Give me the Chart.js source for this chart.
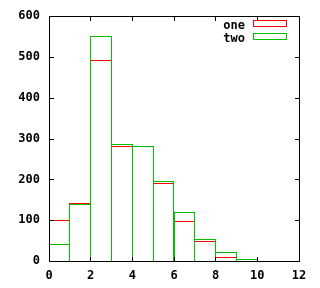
<!DOCTYPE html>
<html>
<head>
<meta charset="utf-8">
<script src="https://cdn.jsdelivr.net/npm/chart.js@4.4.1/dist/chart.umd.min.js"></script>
<style>
  html, body { margin: 0; padding: 0; background: #fff; }
</style>
</head>
<body>
<canvas id="chartHisto" width="320" height="288"></canvas>
<script>
// Données
const binCenters = [0.5, 1.5, 2.5, 3.5, 4.5, 5.5, 6.5, 7.5, 8.5, 9.5];
const oneValues = [100, 143, 492, 283, 281, 191, 99, 48, 11, 0];
const twoValues = [41, 140, 551, 286, 283, 196, 121, 55, 21, 4];
const seriesLabels = ["one", "two"];
const seriesColors = ["#ff0000", "#00c000"];
const xTicks = [0, 2, 4, 6, 8, 10, 12];
const yTicks = [0, 100, 200, 300, 400, 500, 600];

const font = { family: "'DejaVu Sans Mono', monospace", size: 12, weight: "bold" };

function toPoints(values) {
  return binCenters.map((x, i) => ({ x: x, y: values[i] }));
}

// Contour d'une boîte sur pixels entiers (traits nets comme gnuplot)
function boxOutline(ctx, l, t, r, b, color) {
  ctx.fillStyle = color;
  ctx.fillRect(l, t, r - l + 1, 1);
  ctx.fillRect(l, b, r - l + 1, 1);
  ctx.fillRect(l, t, 1, b - t + 1);
  ctx.fillRect(r, t, 1, b - t + 1);
}

// Les barres : contours tracés à partir des éléments calculés par Chart.js
const crispBars = {
  id: "crispBars",
  afterDatasetsDraw(chart) {
    const ctx = chart.ctx;
    ctx.save();
    [0, 1].forEach(di => {
      const meta = chart.getDatasetMeta(di);
      meta.data.forEach((el, i) => {
        if (!chart.data.datasets[di].data[i].y) return;
        const p = el.getProps(["x", "y", "base", "width"], true);
        const l = Math.floor(p.x - p.width / 2);
        const r = Math.floor(p.x + p.width / 2);
        const t = Math.round(p.y);
        const b = Math.round(p.base);
        boxOutline(ctx, l, t, r, b, seriesColors[di]);
      });
    });
    ctx.restore();
  }
};

// Cadre, graduations vers l'intérieur et légende façon gnuplot
const gnuplotFrame = {
  id: "gnuplotFrame",
  afterDraw(chart) {
    const ctx = chart.ctx;
    const xs = chart.scales.x;
    const ys = chart.scales.y;
    const a = chart.chartArea;
    const L = Math.round(a.left), R = Math.round(a.right);
    const T = Math.round(a.top), B = Math.round(a.bottom);
    ctx.save();
    boxOutline(ctx, L, T, R, B, "#000");
    xTicks.forEach(v => {
      const px = Math.floor(xs.getPixelForValue(v));
      ctx.fillRect(px, B - 4, 1, 5);
      ctx.fillRect(px, T, 1, 5);
    });
    yTicks.forEach(v => {
      const py = Math.round(ys.getPixelForValue(v));
      ctx.fillRect(L, py, 5, 1);
      ctx.fillRect(R - 4, py, 5, 1);
    });

    // Légende
    ctx.font = "bold 12px 'DejaVu Sans Mono', monospace";
    ctx.textAlign = "right";
    ctx.textBaseline = "alphabetic";
    seriesLabels.forEach((label, i) => {
      const rowTop = 20 + i * 13;
      ctx.fillStyle = "#000";
      ctx.fillText(label, 245, rowTop + 9);
      boxOutline(ctx, 253, rowTop, 286, rowTop + 6, seriesColors[i]);
    });
    ctx.restore();
  }
};

const chartHisto = new Chart(document.getElementById("chartHisto").getContext("2d"), {
  type: "bar",
  data: {
    datasets: [
      {
        label: seriesLabels[0],
        data: toPoints(oneValues),
        borderColor: seriesColors[0],
        backgroundColor: "rgba(0,0,0,0)",
        borderWidth: 0,
        grouped: false
      },
      {
        label: seriesLabels[1],
        data: toPoints(twoValues),
        borderColor: seriesColors[1],
        backgroundColor: "rgba(0,0,0,0)",
        borderWidth: 0,
        grouped: false
      }
    ]
  },
  options: {
    responsive: false,
    animation: false,
    events: [],
    barPercentage: 1,
    categoryPercentage: 1,
    layout: { padding: { left: 0, top: 14, right: 21, bottom: 0 } },
    plugins: { legend: { display: false }, tooltip: { enabled: false } },
    scales: {
      x: {
        type: "linear",
        min: 0,
        max: 12,
        offset: false,
        afterFit: s => { s.height = 27; },
        afterBuildTicks: s => { s.ticks = xTicks.map(v => ({ value: v })); },
        grid: { display: false, drawTicks: false },
        border: { display: false },
        ticks: { color: "#000", font: font, padding: 8, maxRotation: 0, autoSkip: false }
      },
      y: {
        min: 0,
        max: 600,
        afterFit: s => { s.width = 49; },
        afterBuildTicks: s => { s.ticks = yTicks.map(v => ({ value: v })); },
        grid: { display: false, drawTicks: false },
        border: { display: false },
        ticks: { color: "#000", font: font, padding: 9 }
      }
    }
  },
  plugins: [crispBars, gnuplotFrame]
});
</script>
</body>
</html>
